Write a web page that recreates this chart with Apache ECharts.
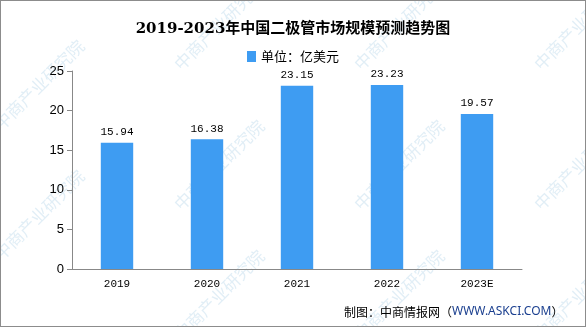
<!DOCTYPE html>
<html><head><meta charset="utf-8">
<script src="https://cdn.jsdelivr.net/npm/echarts@6/dist/echarts.min.js"></script>
<style>
html,body{margin:0;padding:0;background:#fff;}
#c{width:584px;height:325px;border:1px solid #8c8c8c;}
</style></head>
<body><div id="c"></div>
<script>
var titleText = '2019-2023年中国二极管市场规模预测趋势图';
var seriesName = '单位：亿美元';
var categories = ['2019', '2020', '2021', '2022', '2023E'];
var values = [15.94, 16.38, 23.15, 23.23, 19.57];
var yTicks = [0, 5, 10, 15, 20, 25];
var sourceText = '制图：中商情报网（';
var sourceUrl = 'WWW.ASKCI.COM';

var chart = echarts.init(document.getElementById('c'));
var wm = [];
var wmPos = [[-10,120],[-10,250],[170,60],[170,200],[170,330],[350,60],[350,200],[350,330],[530,60],[530,200],[530,330]];
wmPos.forEach(function(p){
  wm.push({type:'text', x:p[0], y:p[1], rotation:Math.PI/4, silent:true, z:-1,
    style:{text:'中商产业研究院', fill:'rgba(170,205,230,0.35)', font:'17px "Noto Sans CJK SC"'}});
});
wm.push({type:'text', left:343, top:305, style:{
  rich:{a:{fill:'#000', font:'12px "Noto Sans CJK SC"'}, b:{fill:'#1a3f8f', font:'12px "Noto Sans"'}},
  text:'{a|' + sourceText + '}{b|' + sourceUrl + '}{a|）}'}});
chart.setOption({
  animation:false,
  title:{text:titleText, left:'center', top:16, textStyle:{fontSize:15, fontWeight:'bold', color:'#000', fontFamily:'"DejaVu Serif","Noto Sans CJK SC"'}},
  legend:{data:[seriesName], top:44, left:'center', itemWidth:9, itemHeight:11, icon:'rect', itemGap:4,
    textStyle:{fontSize:13, color:'#000', fontFamily:'"Noto Sans CJK SC"'}},
  grid:{left:71, right:63, top:70, bottom:57},
  xAxis:{type:'category', data:categories, axisLine:{lineStyle:{color:'#888'}}, axisTick:{lineStyle:{color:'#888'}, length:5},
    axisLabel:{color:'#000', fontSize:11, fontFamily:'"Liberation Mono"', margin:10}},
  yAxis:{type:'value', min:yTicks[0], max:yTicks[yTicks.length-1], interval:5, splitLine:{show:false},
    axisLine:{show:true, lineStyle:{color:'#888'}}, axisTick:{show:true, lineStyle:{color:'#888'}, length:5},
    axisLabel:{color:'#000', fontSize:13, fontFamily:'"Liberation Sans"', margin:8}},
  series:[{name:seriesName, type:'bar', data:values, barWidth:'36%', itemStyle:{color:'#3E9CF2'},
    label:{show:true, position:'top', distance:5, color:'#000', fontSize:11, fontFamily:'"Liberation Mono"'}}],
  graphic:wm
});
</script></body></html>
